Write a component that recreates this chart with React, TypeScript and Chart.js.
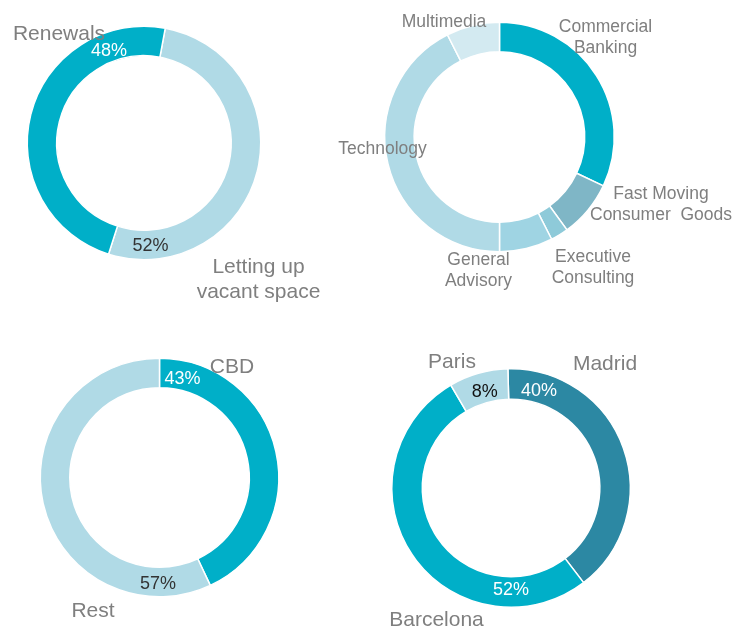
import React, { useEffect, useRef } from 'react';
import { Chart, registerables } from 'chart.js';

Chart.register(...registerables);

// ---------- DATA ----------
// Chart 1: leasing activity
const leasingCategories = ['Letting up\nvacant space', 'Renewals'];
const leasingValues = [52, 48];

// Chart 2: tenants by sector
const sectorCategories = [
  'Commercial\nBanking',
  'Fast Moving\nConsumer  Goods',
  'Executive\nConsulting',
  'General\nAdvisory',
  'Technology',
  'Multimedia',
];
const sectorValues = [32, 8, 2.5, 7.5, 42.5, 7.5];

// Chart 3: location
const locationCategories = ['CBD', 'Rest'];
const locationValues = [43, 57];

// Chart 4: city
const cityCategories = ['Madrid', 'Barcelona', 'Paris'];
const cityValues = [40, 52, 8];

// ---------- STYLE / LAYOUT ----------
const W = 735;
const H = 628;
const FONT = '"Liberation Sans", Arial, sans-serif';
const GRAY = '#7f7f7f';
const TEAL = '#00afc8';
const LIGHT = '#b0dae6';

type Pt = { x: number; y: number } | null;
type PctPt = { x: number; y: number; color: string } | null;

interface RingSpec {
  categories: string[];
  values: number[];
  colors: string[];
  cx: number;
  cy: number;
  r: number;
  rin: number;
  rotation: number;
  catPos: Pt[];
  catSize: number;
  lineGap: number;
  pctPos: PctPt[];
  pctSize: number;
}

const specs: RingSpec[] = [
  {
    categories: leasingCategories,
    values: leasingValues,
    colors: [LIGHT, TEAL],
    cx: 144,
    cy: 143,
    r: 116,
    rin: 88,
    rotation: 10.5,
    catPos: [
      { x: 258.5, y: 265.5 },
      { x: 59, y: 32.2 },
    ],
    catSize: 21,
    lineGap: 24.5,
    pctPos: [
      { x: 150.5, y: 244.8, color: '#333333' },
      { x: 109, y: 50, color: '#ffffff' },
    ],
    pctSize: 18,
  },
  {
    categories: sectorCategories,
    values: sectorValues,
    colors: ['#00afc8', '#7fb6c6', '#8ecad9', '#9fd4e3', '#b0dae6', '#d3eaf1'],
    cx: 499.5,
    cy: 137,
    r: 114,
    rin: 86,
    rotation: 0,
    catPos: [
      { x: 605.5, y: 25.5 },
      { x: 661, y: 192.8 },
      { x: 593, y: 256 },
      { x: 478.5, y: 258.7 },
      { x: 382.5, y: 148 },
      { x: 444, y: 20.3 },
    ],
    catSize: 17.5,
    lineGap: 21,
    pctPos: [null, null, null, null, null, null],
    pctSize: 18,
  },
  {
    categories: locationCategories,
    values: locationValues,
    colors: [TEAL, LIGHT],
    cx: 159.5,
    cy: 477.5,
    r: 118.5,
    rin: 90.5,
    rotation: 0,
    catPos: [
      { x: 232, y: 365.8 },
      { x: 93, y: 609.2 },
    ],
    catSize: 21,
    lineGap: 24.5,
    pctPos: [
      { x: 182.5, y: 378, color: '#ffffff' },
      { x: 158, y: 583, color: '#333333' },
    ],
    pctSize: 18,
  },
  {
    categories: cityCategories,
    values: cityValues,
    colors: ['#2c88a3', TEAL, LIGHT],
    cx: 511,
    cy: 488,
    r: 118.5,
    rin: 89.5,
    rotation: -1.5,
    catPos: [
      { x: 605, y: 362.5 },
      { x: 436.5, y: 618.8 },
      { x: 452, y: 360.8 },
    ],
    catSize: 21,
    lineGap: 24.5,
    pctPos: [
      { x: 539, y: 390, color: '#ffffff' },
      { x: 511, y: 588.3, color: '#ffffff' },
      { x: 484.7, y: 390.5, color: '#111111' },
    ],
    pctSize: 18,
  },
];

const BW = 1.5;

function Ring({ spec }: { spec: RingSpec }) {
  const ref = useRef<HTMLCanvasElement | null>(null);

  useEffect(() => {
    const canvas = ref.current;
    if (!canvas) return;
    const A = spec.r + BW;
    const cutout = ((spec.rin - BW / 2) / (A - BW / 2)) * 100;

    const labelPlugin = {
      id: 'ringLabels',
      afterDraw(chart: any) {
        const ctx = chart.ctx as CanvasRenderingContext2D;
        ctx.save();
        ctx.textAlign = 'center';
        ctx.textBaseline = 'alphabetic';
        spec.categories.forEach((cat, i) => {
          const p = spec.catPos[i];
          if (p) {
            ctx.font = `${spec.catSize}px ${FONT}`;
            ctx.fillStyle = GRAY;
            cat.split('\n').forEach((line, j) => {
              ctx.fillText(line, p.x, p.y + j * spec.lineGap + 0.358 * spec.catSize);
            });
          }
          const q = spec.pctPos[i];
          if (q) {
            ctx.font = `${spec.pctSize}px ${FONT}`;
            ctx.fillStyle = q.color;
            ctx.fillText(`${spec.values[i]}%`, q.x, q.y + 0.358 * spec.pctSize);
          }
        });
        ctx.restore();
      },
    };

    const chart = new Chart(canvas, {
      type: 'doughnut',
      data: {
        labels: spec.categories.map((c) => c.replace('\n', ' ')),
        datasets: [
          {
            data: spec.values,
            backgroundColor: spec.colors,
            borderColor: '#ffffff',
            borderWidth: BW,
            hoverOffset: 0,
            offset: 0,
          },
        ],
      },
      options: {
        responsive: false,
        animation: false,
        events: [],
        cutout: `${cutout}%`,
        rotation: spec.rotation,
        layout: {
          padding: {
            left: spec.cx - A,
            top: spec.cy - A,
            right: W - spec.cx - A,
            bottom: H - spec.cy - A,
          },
        },
        plugins: {
          legend: { display: false },
          tooltip: { enabled: false },
        },
      },
      plugins: [labelPlugin],
    } as any);

    return () => chart.destroy();
  }, [spec]);

  return (
    <canvas
      ref={ref}
      width={W}
      height={H}
      style={{ position: 'absolute', left: 0, top: 0, width: W, height: H }}
    />
  );
}

export default function App() {
  return (
    <div
      style={{
        position: 'absolute',
        left: 0,
        top: 0,
        width: W,
        height: H,
        background: '#ffffff',
      }}
    >
      {specs.map((s, i) => (
        <Ring key={i} spec={s} />
      ))}
    </div>
  );
}
